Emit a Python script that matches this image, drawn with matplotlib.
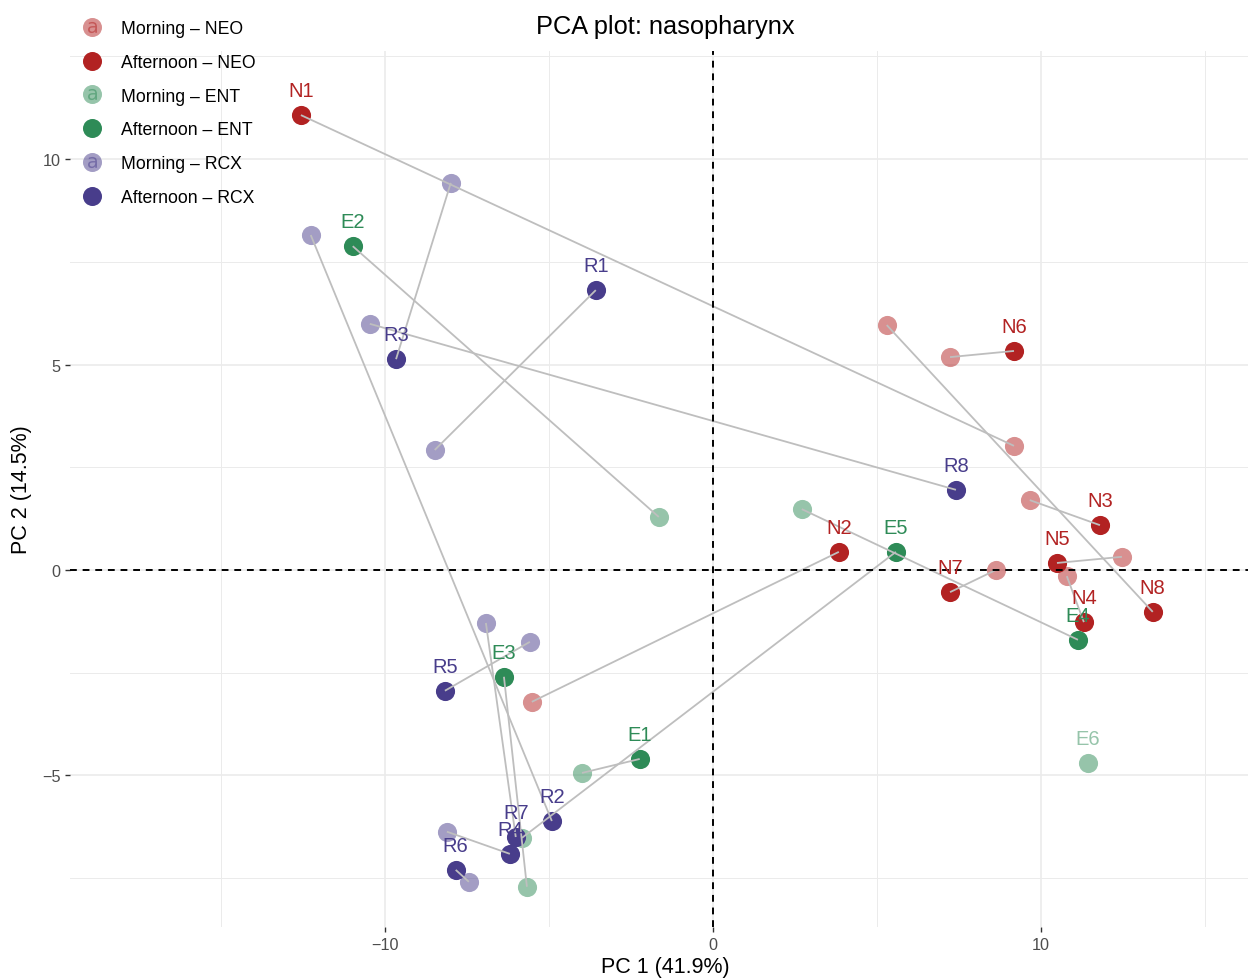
import numpy as np
import matplotlib
matplotlib.use('Agg')
import matplotlib.pyplot as plt
from matplotlib.lines import Line2D
from matplotlib.legend_handler import HandlerTuple

plt.rcParams['font.family'] = ['Liberation Sans', 'DejaVu Sans']

# PC scores per subject: morning (am) and afternoon (pm) samples
neo_ids  = ['N1', 'N2', 'N3', 'N4', 'N5', 'N6', 'N7', 'N8']
neo_am_x = [9.18, -5.52, 9.66, 10.79, 12.47, 7.23, 8.63, 5.30]
neo_am_y = [3.02, -3.21, 1.70, -0.15, 0.32, 5.18, 0.00, 5.96]
neo_pm_x = [-12.56, 3.84, 11.80, 11.31, 10.49, 9.18, 7.23, 13.41]
neo_pm_y = [11.07, 0.44, 1.09, -1.27, 0.17, 5.33, -0.54, -1.02]

ent_ids  = ['E1', 'E2', 'E3', 'E4', 'E5', 'E6']
ent_am_x = [-3.99, -1.65, -5.67, 2.71, -5.82, 11.43]
ent_am_y = [-4.94, 1.29, -7.71, 1.48, -6.52, -4.70]
ent_pm_x = [-2.23, -10.98, -6.37, 11.13, 5.58, np.nan]
ent_pm_y = [-4.60, 7.88, -2.60, -1.70, 0.44, np.nan]

rcx_ids  = ['R1', 'R2', 'R3', 'R4', 'R5', 'R6', 'R7', 'R8']
rcx_am_x = [-8.48, -12.26, -7.99, -8.11, -5.58, -7.44, -6.92, -10.46]
rcx_am_y = [2.92, 8.15, 9.42, -6.37, -1.75, -7.59, -1.29, 5.99]
rcx_pm_x = [-3.57, -4.91, -9.66, -6.19, -8.17, -7.84, -6.01, 7.41]
rcx_pm_y = [6.81, -6.11, 5.13, -6.91, -2.94, -7.30, -6.50, 1.95]

groups = [
    ('NEO', '#B22222', neo_ids, neo_am_x, neo_am_y, neo_pm_x, neo_pm_y),
    ('ENT', '#2E8B57', ent_ids, ent_am_x, ent_am_y, ent_pm_x, ent_pm_y),
    ('RCX', '#483D8B', rcx_ids, rcx_am_x, rcx_am_y, rcx_pm_x, rcx_pm_y),
]
AM_ALPHA = 0.5
PT_SIZE = 190

fig = plt.figure(figsize=(12.48, 9.79), dpi=100)
fig.patch.set_facecolor('white')
ax = fig.add_axes([70 / 1248, 51 / 979, 1190 / 1248, 876 / 979])
ax.set_facecolor('white')
ax.set_xlim(-19.6, 16.68)
ax.set_ylim(-8.69, 12.63)

# grid
ax.set_xticks([-10, 0, 10])
ax.set_xticks([-15, -5, 5, 15], minor=True)
ax.set_yticks([-5, 0, 5, 10])
ax.set_yticks([-7.5, -2.5, 2.5, 7.5, 12.5], minor=True)
ax.grid(which='major', color='#EBEBEB', lw=1.2, zorder=0)
ax.grid(which='minor', color='#EBEBEB', lw=0.7, zorder=0)
ax.set_axisbelow(True)
for s in ax.spines.values():
    s.set_visible(False)
ax.tick_params(which='major', length=3.5, width=1.0, color='#333333',
               labelcolor='#4D4D4D', labelsize=11.7, pad=3.5)
ax.tick_params(which='minor', length=0)

ax.axhline(0, color='black', lw=1.4, ls=(0, (3.5, 3)), zorder=4)
ax.axvline(0, color='black', lw=1.4, ls=(0, (3.5, 3)), zorder=4)

handles, labels = [], []
for name, col, ids, amx, amy, pmx, pmy in groups:
    amx, amy, pmx, pmy = map(np.asarray, (amx, amy, pmx, pmy))
    ax.scatter(amx, amy, s=PT_SIZE, color=col, alpha=AM_ALPHA, linewidths=0, zorder=2)
    ax.scatter(pmx, pmy, s=PT_SIZE, color=col, linewidths=0, zorder=2)
    for i, sid in enumerate(ids):
        if np.isnan(pmx[i]):
            lx, ly, a = amx[i], amy[i], AM_ALPHA
        else:
            ax.plot([amx[i], pmx[i]], [amy[i], pmy[i]], color='#BEBEBE', lw=1.3,
                    zorder=3, solid_capstyle='butt')
            lx, ly, a = pmx[i], pmy[i], 1.0
        ax.annotate(sid, (lx, ly), xytext=(0, 17.5), textcoords='offset points',
                    ha='center', va='center', fontsize=14.5, color=col, alpha=a,
                    zorder=5)
    dot = Line2D([], [], ls='none', marker='o', markersize=13.7, color=col,
                 alpha=AM_ALPHA, markeredgewidth=0)
    letter = Line2D([], [], ls='none', marker='$\\mathsf{a}$', markersize=8,
                    color=col, alpha=AM_ALPHA, markeredgewidth=0)
    handles.append((dot, letter))
    labels.append(f'Morning \u2013 {name}')
    handles.append(Line2D([], [], ls='none', marker='o', markersize=13.7,
                          color=col, markeredgewidth=0))
    labels.append(f'Afternoon \u2013 {name}')

fig.legend(handles, labels, loc='upper left', bbox_to_anchor=(80 / 1248, 1 - 21 / 979),
           frameon=False, fontsize=12.7, handlelength=1.4, handletextpad=0.9,
           labelspacing=0.95, borderpad=0, borderaxespad=0,
           handler_map={tuple: HandlerTuple(ndivide=1, pad=0)})

fig.text(665 / 1248, 1 - 27 / 979, 'PCA plot: nasopharynx', ha='center', va='center',
         fontsize=18.3, color='black')
fig.text(665 / 1248, 1 - 968 / 979, 'PC 1 (41.9%)', ha='center', va='center',
         fontsize=15.5, color='black')
fig.text(22 / 1248, 1 - 490 / 979, 'PC 2 (14.5%)', ha='center', va='center',
         rotation=90, fontsize=15.5, color='black')

fig.savefig('out.png', dpi=100, facecolor='white')
